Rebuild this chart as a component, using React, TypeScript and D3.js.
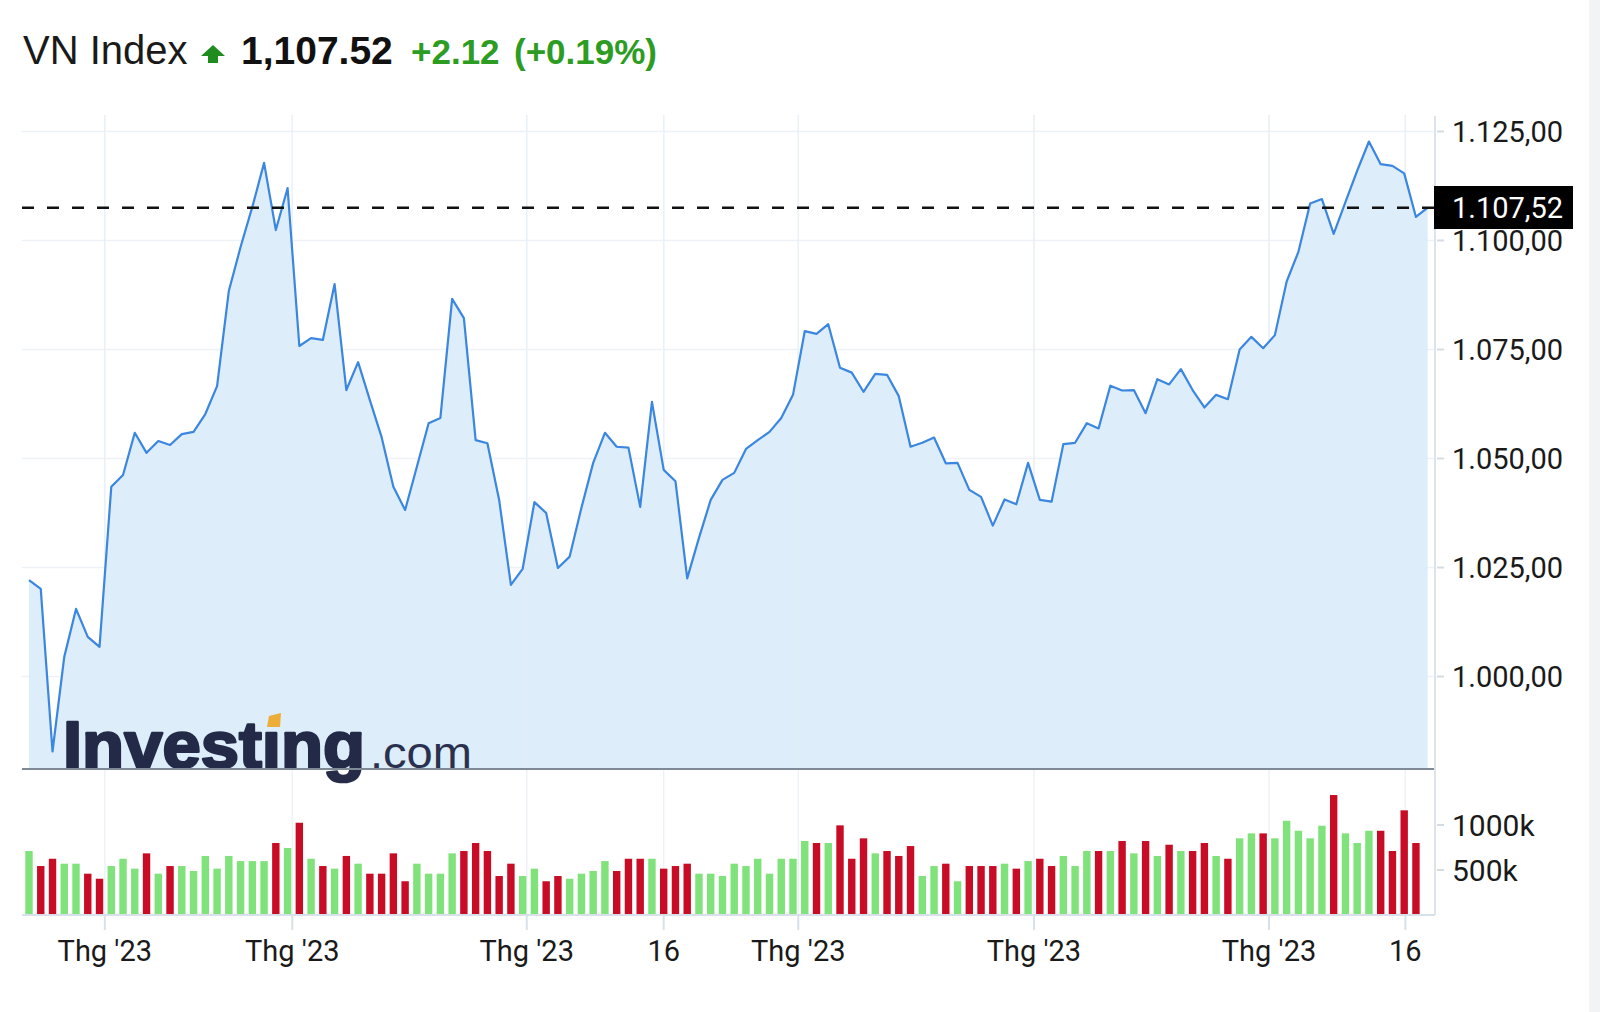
import React from "react";
import * as d3 from "d3";

// ---- Data ----
const prices: number[] = [
  1022.1, 1020.1, 982.8, 1004.5, 1015.5, 1009.1, 1006.8, 1043.5, 1046.2, 1055.9,
  1051.3, 1054.0, 1053.1, 1055.6, 1056.1, 1060.2, 1066.6, 1088.4, 1098.5, 1107.7,
  1117.8, 1102.4, 1112.0, 1075.8, 1077.6, 1077.2, 1090.0, 1065.7, 1072.1, 1063.4,
  1054.9, 1043.5, 1038.2, 1048.1, 1058.1, 1059.3, 1086.6, 1082.2, 1054.2, 1053.5,
  1040.5, 1021.0, 1024.7, 1040.0, 1037.5, 1024.9, 1027.5, 1038.7, 1049.0, 1055.9,
  1052.7, 1052.5, 1038.9, 1063.0, 1047.4, 1044.8, 1022.5, 1031.8, 1040.5, 1045.1,
  1046.7, 1052.2, 1054.2, 1056.1, 1059.3, 1064.6, 1079.2, 1078.6, 1080.8, 1070.8,
  1069.7, 1065.3, 1069.4, 1069.2, 1064.3, 1052.7, 1053.6, 1054.8, 1048.9, 1049.0,
  1042.8, 1041.2, 1034.6, 1040.6, 1039.5, 1049.0, 1040.5, 1040.1, 1053.3, 1053.6,
  1058.1, 1056.9, 1066.7, 1065.6, 1065.7, 1060.4, 1068.2, 1067.0, 1070.5, 1065.7,
  1061.7, 1064.6, 1063.6, 1075.0, 1077.9, 1075.3, 1078.3, 1090.6, 1097.4, 1108.5,
  1109.5, 1101.5, 1108.8, 1116.0, 1122.7, 1117.5, 1117.1, 1115.4, 1105.4, 1107.52,
];

// volume in thousands
const volumes: number[] = [
  711, 544, 625, 570, 570, 459, 403, 544, 625, 515,
  685, 459, 544, 544, 489, 656, 515, 656, 599, 599,
  599, 800, 744, 1025, 625, 544, 515, 656, 570, 459,
  459, 685, 375, 570, 459, 459, 685, 711, 800, 711,
  433, 570, 433, 515, 375, 433, 403, 459, 489, 599,
  489, 625, 625, 625, 515, 544, 570, 459, 459, 433,
  570, 544, 625, 459, 625, 625, 822, 800, 800, 996,
  625, 852, 685, 711, 656, 766, 433, 544, 570, 375,
  544, 544, 544, 570, 515, 599, 625, 544, 656, 544,
  711, 711, 711, 822, 685, 822, 656, 781, 711, 711,
  800, 656, 625, 852, 907, 907, 852, 1047, 936, 852,
  992, 1333, 907, 800, 936, 936, 711, 1163, 800,
];

const priceTicks: number[] = [1000, 1025, 1050, 1075, 1100, 1125];
const priceTickLabels: string[] = ["1.000,00", "1.025,00", "1.050,00", "1.075,00", "1.100,00", "1.125,00"];
const volumeTicks: number[] = [500, 1000];
const volumeTickLabels: string[] = ["500k", "1000k"];
const timeTicks: number[] = [6.45, 22.4, 42.35, 54, 65.45, 85.5, 105.5, 117.1];
const timeTickLabels: string[] = ["Thg '23", "Thg '23", "Thg '23", "16", "Thg '23", "Thg '23", "Thg '23", "16"];

const lastPrice = 1107.52;
const titleName = "VN Index";
const titlePrice = "1,107.52";
const titleChange = "+2.12";
const titlePct = "(+0.19%)";
const lastLabel = "1.107,52";

// ---- Layout ----
const W = 1600;
const H = 1012;
const plotLeft = 22;
const plotRight = 1435;
const priceBottom = 769;
const volBottom = 915;

const FONT = "'Liberation Sans', Arial, sans-serif";
const AXFONT = "Roboto, 'Liberation Sans', Arial, sans-serif";

export default function App() {
  const x = d3.scaleLinear().domain([0, prices.length - 1]).range([29, 1427.7]);
  const y = d3.scaleLinear().domain([1000, 1125]).range([676.5, 131.5]);
  const yv = d3.scaleLinear().domain([0, 1000]).range([volBottom, 825]);

  const line = d3
    .line<number>()
    .x((_, i) => x(i))
    .y((d) => y(d));
  const area = d3
    .area<number>()
    .x((_, i) => x(i))
    .y0(priceBottom)
    .y1((d) => y(d));

  const barW = 7.4;
  const green = "#80e27a";
  const red = "#c80c26";
  const grid = "#eef2f6";

  return (
    <svg
      width={W}
      height={H}
      style={{ position: "absolute", left: 0, top: 0, background: "#fff" }}
    >
      <rect x={0} y={0} width={W} height={H} fill="#fff" />
      <rect x={1589} y={0} width={11} height={H} fill="#f2f3f5" />

      {/* Title */}
      <text x={23} y={64} fontFamily={FONT} fontSize={40} fill="#1a1a1a">
        {titleName}
      </text>
      <path
        d="M213,45 L225,56 L218,56 L218,63 L208,63 L208,56 L201,56 Z"
        fill="#1f8c1f"
      />
      <text x={241} y={64} fontFamily={FONT} fontSize={39} fontWeight="bold" fill="#111">
        {titlePrice}
      </text>
      <text x={411} y={64} fontFamily={FONT} fontSize={35} fontWeight="bold" fill="#2d9c23">
        {titleChange}
      </text>
      <text x={514} y={64} fontFamily={FONT} fontSize={35} fontWeight="bold" fill="#2d9c23">
        {titlePct}
      </text>

      {/* Gridlines */}
      {priceTicks.map((t) => (
        <line key={"g" + t} x1={plotLeft} x2={plotRight} y1={y(t)} y2={y(t)} stroke={grid} strokeWidth={1.5} />
      ))}
      {timeTicks.map((t, i) => (
        <line key={"v" + i} x1={x(t)} x2={x(t)} y1={115} y2={volBottom} stroke={grid} strokeWidth={1.5} />
      ))}

      {/* Price area */}
      <path d={area(prices) || ""} fill="#d9ebf8" fillOpacity={0.9} />
      {timeTicks.map((t, i) => (
        <line key={"vv" + i} x1={x(t)} x2={x(t)} y1={115} y2={priceBottom} stroke="#e6eff7" strokeOpacity={0.5} strokeWidth={1.5} />
      ))}
      <path d={line(prices) || ""} fill="none" stroke="#3b86e0" strokeWidth={2.2} strokeLinejoin="round" />

      {/* Logo */}
      <g opacity={0.93}>
        <text
          x={63}
          y={768}
          fontFamily={FONT}
          fontSize={66}
          fontWeight="bold"
          fill="#161c3a"
          stroke="#161c3a"
          strokeWidth={2.6}
          strokeLinejoin="round"
          textLength={302}
          lengthAdjust="spacingAndGlyphs"
        >
          {"Investıng"}
        </text>
        <path d="M269,716 L281,713 L280,727 L267,727 Z" fill="#f0a92a" />
        <text x={370} y={768} fontFamily={FONT} fontSize={45} fill="#1c2342" textLength={102} lengthAdjust="spacingAndGlyphs">
          .com
        </text>
      </g>

      {/* Current price dashed line */}
      <line
        x1={plotLeft}
        x2={plotRight}
        y1={y(lastPrice)}
        y2={y(lastPrice)}
        stroke="#111"
        strokeWidth={2.6}
        strokeDasharray="12 13"
      />

      {/* Pane separator */}
      <line x1={plotLeft} x2={plotRight} y1={priceBottom} y2={priceBottom} stroke="#7f8a96" strokeWidth={2} />

      {/* Volume bars */}
      {volumes.map((v, i) => {
        const up = i === 0 || prices[i] >= prices[i - 1];
        return (
          <rect
            key={"b" + i}
            x={x(i) - barW / 2}
            y={yv(v)}
            width={barW}
            height={volBottom - yv(v)}
            fill={up ? green : red}
          />
        );
      })}
      <line x1={plotLeft} x2={plotRight} y1={volBottom} y2={volBottom} stroke="#d8e1ea" strokeWidth={2} />

      {/* Right axis */}
      <line x1={plotRight} x2={plotRight} y1={116} y2={volBottom} stroke="#dde3ea" strokeWidth={2} />
      {priceTicks.map((t, i) => (
        <g key={"pt" + t}>
          <line x1={plotRight + 2} x2={plotRight + 9} y1={y(t)} y2={y(t)} stroke="#d5dbe2" strokeWidth={2} />
          <text x={1452} y={y(t)} dy="0.36em" fontFamily={AXFONT} fontSize={29} fill="#1a1a1a">
            {priceTickLabels[i]}
          </text>
        </g>
      ))}
      {volumeTicks.map((t, i) => (
        <g key={"vt" + t}>
          <line x1={plotRight + 2} x2={plotRight + 9} y1={yv(t)} y2={yv(t)} stroke="#d5dbe2" strokeWidth={2} />
          <text x={1452} y={yv(t)} dy="0.36em" fontFamily={AXFONT} fontSize={30} fill="#1a1a1a">
            {volumeTickLabels[i]}
          </text>
        </g>
      ))}

      {/* Last price label */}
      <rect x={1434} y={186} width={139} height={43} fill="#000" />
      <text x={1452} y={y(lastPrice)} dy="0.36em" fontFamily={AXFONT} fontSize={29} fill="#fff">
        {lastLabel}
      </text>

      {/* Time axis */}
      {timeTicks.map((t, i) => (
        <g key={"tt" + i}>
          <line x1={x(t)} x2={x(t)} y1={volBottom} y2={930} stroke="#d8e1ea" strokeWidth={2} />
          <text x={x(t)} y={961} textAnchor="middle" fontFamily={AXFONT} fontSize={29} fill="#1a1a1a">
            {timeTickLabels[i]}
          </text>
        </g>
      ))}
    </svg>
  );
}
